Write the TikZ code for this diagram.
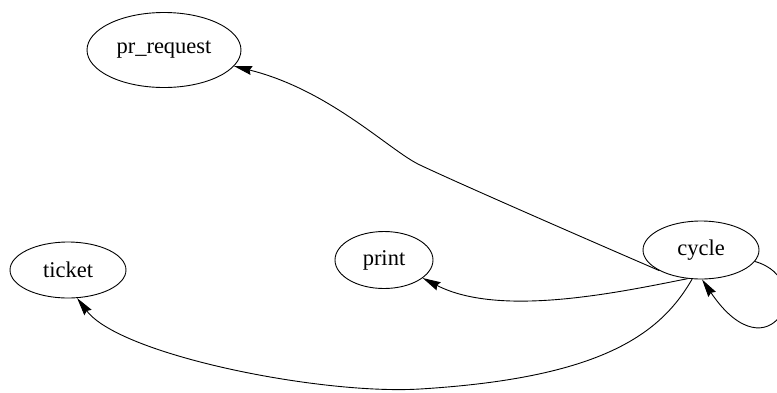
\documentclass[tikz,border=0pt]{standalone}
\usepackage{fontspec}
\setmainfont{Liberation Serif}
\usetikzlibrary{shapes.geometric,arrows.meta}
\begin{document}
\begin{tikzpicture}[x=1pt,y=-1pt,
  st/.style={ellipse,draw,line width=0.9pt,inner sep=0pt,font=\fontsize{22.5}{27}\selectfont},
  edge/.style={line width=0.9pt,-{Stealth[length=18pt,width=9pt,inset=2pt]}}]
\useasboundingbox (0,0) rectangle (777,392);
\clip (0,0) rectangle (777,392);
\node[st,minimum width=154pt,minimum height=75pt] (pr) at (164,50) {pr\_request};
\node[st,minimum width=116pt,minimum height=56pt] (ticket) at (68,270) {ticket};
\node[st,minimum width=98pt,minimum height=57pt] (print) at (384,260) {print};
\node[st,minimum width=116pt,minimum height=58pt] (cycle) at (701,250) {cycle};
\coordinate (m1) at (420,165);
\coordinate (m2) at (420,389);
% cycle -> pr_request
\draw[line width=0.9pt] (cycle.206) .. controls (600,245) and (460,184) .. (m1);
\draw[edge] (m1) .. controls (390,151) and (330,90) .. (pr.347);
% cycle -> print
\draw[edge] (cycle.245) .. controls (620,292) and (500,318) .. (print.335);
% cycle -> ticket
\draw[line width=0.9pt] (cycle.253) .. controls (660,335) and (600,378) .. (m2);
\draw[edge] (m2) .. controls (320,395) and (120,355) .. (ticket.288);
% self loop
\draw[edge] (cycle.348) .. controls (820,280) and (770,380) .. (cycle.272);
\end{tikzpicture}
\end{document}
